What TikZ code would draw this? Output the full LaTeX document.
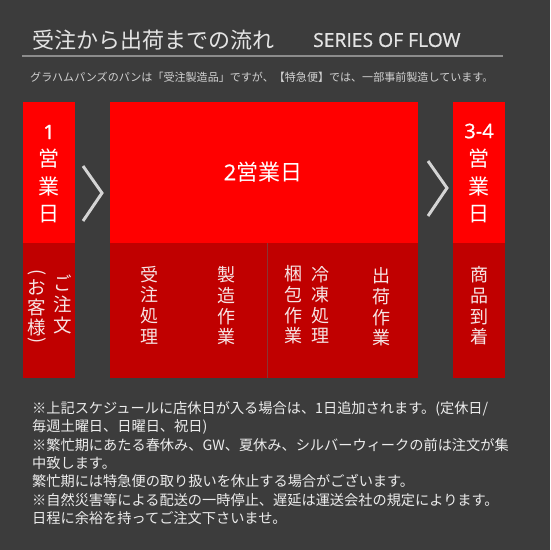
\documentclass[tikz,border=0pt]{standalone}
\usepackage{fontspec}
\setmainfont{Noto Sans CJK JP}
\newfontfamily\latfont{Open Sans}
\newfontfamily\latsemi[FakeBold=0.7]{Open Sans}
\definecolor{bgc}{HTML}{3C3C3C}
\definecolor{redA}{HTML}{FF0000}
\definecolor{redB}{HTML}{C00000}
\definecolor{rulec}{HTML}{8C8C8C}
\definecolor{titlec}{HTML}{E4E4E4}
\definecolor{subc}{HTML}{D2D2D2}
\definecolor{notec}{HTML}{ECECEC}
\definecolor{pinkw}{HTML}{F6E4E4}
\definecolor{chevc}{HTML}{D4D4D4}
\definecolor{divc}{HTML}{8A3434}
\tikzset{
  boxA/.style={fill=redA, draw=none, inner sep=0pt, anchor=north west, minimum width=#1},
  boxB/.style={fill=redB, draw=none, inner sep=0pt, anchor=north west, minimum width=#1},
  vtxt/.style={text=pinkw, align=center, inner sep=0pt, font=\fontsize{18}{20.6}\selectfont},
  toptxt/.style={text=white, align=center, inner sep=0pt, font=\fontsize{21}{27.5}\selectfont},
  chev/.style={draw=chevc, line width=3pt, line join=miter},
  chevshadow/.style={draw=black, opacity=0.35, line width=3pt, line join=miter}
}
\begin{document}
\begin{tikzpicture}[x=1pt,y=-1pt]
\useasboundingbox (0,0) rectangle (550,550);
\fill[bgc] (0,0) rectangle (550,550);

% title
\node[anchor=west, inner sep=0pt, text=titlec, font=\fontsize{22}{24}\selectfont] (title) at (32,40) {受注から出荷までの流れ};
\node[anchor=west, inner sep=0pt, text=titlec, font=\latsemi\fontsize{19.3}{22}\selectfont] (series) at (313,40) {SERIES OF FLOW};
\draw[rulec, line width=1.2pt] (22,56) -- (503,56);
\node[anchor=west, inner sep=0pt, text=subc, font=\fontsize{11.05}{13}\selectfont] (sub) at (30,77) {グラハムパンズのパンは「受注製造品」ですが、【特急便】では、一部事前製造しています。};

% boxes
\node[boxA=52pt, minimum height=141pt] (d1top) at (23,102) {};
\node[boxB=52pt, minimum height=135pt] (d1bot) at (23,243) {};
\node[boxA=308pt, minimum height=141pt] (d2top) at (110,102) {};
\node[boxB=308pt, minimum height=135pt] (d2bot) at (110,243) {};
\node[boxA=52pt, minimum height=141pt] (d3top) at (453,102) {};
\node[boxB=52pt, minimum height=135pt] (d3bot) at (453,243) {};
\draw[divc, line width=0.8pt] (267.5,243) -- (267.5,378);

% chevrons
\coordinate (c1a) at (83,166); \coordinate (c1b) at (102,193); \coordinate (c1c) at (83,221);
\coordinate (c2a) at (428,161); \coordinate (c2b) at (447,188); \coordinate (c2c) at (428,216);
\draw[chevshadow, shift={(1.5,1.5)}] (c1a) -- (c1b) -- (c1c);
\draw[chevshadow, shift={(1.5,1.5)}] (c2a) -- (c2b) -- (c2c);
\draw[chev] (c1a) -- (c1b) -- (c1c);
\draw[chev] (c2a) -- (c2b) -- (c2c);

% day 1
\node[toptxt, font=\latsemi\fontsize{20}{22}\selectfont] (n1) at (49,132) {1};
\node[toptxt] (n1d) at (49,186) {営\\業\\日};
\node[vtxt, font=\fontsize{18.5}{21}\selectfont] (order) at (63,304) {ご\\注\\文};
\node[vtxt, font=\fontsize{18.5}{20}\selectfont] (cust) at (37,308) {お\\客\\様};
\node[text=pinkw, inner sep=0pt, rotate=-90, font=\fontsize{18}{20}\selectfont] (lp) at (37,273) {(};
\node[text=pinkw, inner sep=0pt, rotate=-90, font=\fontsize{18}{20}\selectfont] (rp) at (37,341) {)};

% day 2
\node[text=white, inner sep=0pt, font=\fontsize{22}{24}\selectfont] (n2) at (263,172) {{\latsemi 2}営業日};
\node[vtxt] (s1) at (149,305) {受\\注\\処\\理};
\node[vtxt] (s2) at (226,306) {製\\造\\作\\業};
\node[vtxt] (s3) at (293,305) {梱\\包\\作\\業};
\node[vtxt] (s4) at (320,305) {冷\\凍\\処\\理};
\node[vtxt] (s5) at (381,307) {出\\荷\\作\\業};

% day 3-4
\node[toptxt, font=\latsemi\fontsize{20}{22}\selectfont] (n3) at (479,131) {3-4};
\node[toptxt] (n3d) at (479,186) {営\\業\\日};
\node[vtxt] (s6) at (479,306) {商\\品\\到\\着};

% notes
\node[anchor=west, align=left, inner sep=0pt, text=notec, font=\fontsize{14.2}{18.35}\selectfont] (notes) at (32,463) {※上記スケジュールに店休日が入る場合は、1日追加されます。(定休日/\\
毎週土曜日、日曜日、祝日)\\
※繁忙期にあたる春休み、GW、夏休み、シルバーウィークの前は注文が集\\
中致します。\\
繁忙期には特急便の取り扱いを休止する場合がございます。\\
※自然災害等による配送の一時停止、遅延は運送会社の規定によります。\\
日程に余裕を持ってご注文下さいませ。};
\end{tikzpicture}
\end{document}
